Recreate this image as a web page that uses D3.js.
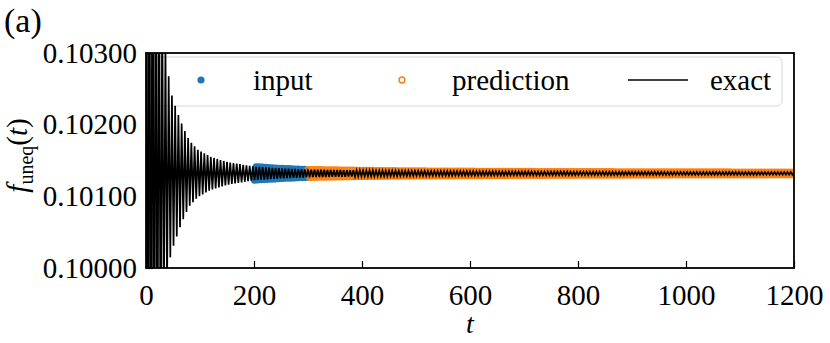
<!DOCTYPE html>
<html>
<head>
<meta charset="utf-8">
<script src="https://cdn.jsdelivr.net/npm/d3@7"></script>
<style>
  body { margin: 0; background: #fff; }
  svg { display: block; }
  svg text { font-family: "Liberation Serif", "DejaVu Serif", "Nimbus Roman", "FreeSerif", "Times", "STIXGeneral", "Tinos", "Noto Serif", serif !important; }
</style>
</head>
<body>
<div id="chart"></div>
<script>
// values
const center = 0.10132;          // level the oscillation settles to
const halfPeriod = 3.0;          // t between a peak and the next trough
const envT   = [0, 20, 31, 44, 50, 57, 63, 69, 75, 81, 96, 120, 150, 200, 250, 300, 400, 500, 650, 800, 1000, 1200];
const envAmp = [0.01, 0.0045, 0.0022, 0.0012, 0.00103, 0.00088, 0.00075, 0.00064, 0.00054, 0.00045, 0.00033,
                0.00023, 0.00016, 0.000095, 0.00007, 0.000054, 0.000042, 0.000034, 0.000028, 0.000024, 0.00002, 0.000018];
const inputRange = [200, 300];
const predRange = [300, 1200];
const xTicks = [0, 200, 400, 600, 800, 1000, 1200];
const yTicks = [0.100, 0.101, 0.102, 0.103];
const legendItems = ["input", "prediction", "exact"];

const W = 830, H = 343;
const margin = { top: 53, right: 36, bottom: 75, left: 146 };
const iw = W - margin.left - margin.right;
const ih = H - margin.top - margin.bottom;

const svg = d3.select("#chart").append("svg")
    .attr("width", W)
    .attr("height", H);

const x = d3.scaleLinear().domain([0, 1200]).range([0, iw]);
const y = d3.scaleLinear().domain([0.100, 0.103]).range([ih, 0]);
const amp = d3.scaleLinear().domain(envT).range(envAmp);

// the exact curve, peak to trough
const exact = [];
let sign = 1;
for (let t = 0; t <= 1200; t += halfPeriod) {
    exact.push([t, center + sign * amp(t)]);
    sign = -sign;
}
const exactAt = t => {
    const i = Math.min(Math.floor(t / halfPeriod), exact.length - 2);
    const a = exact[i], b = exact[i + 1];
    return a[1] + (b[1] - a[1]) * (t - a[0]) / (b[0] - a[0]);
};
const inputPts = d3.range(inputRange[0], inputRange[1]).map(t => [t, exactAt(t)]);
const predPts = d3.range(predRange[0], predRange[1] + 1).map(t => [t, exactAt(t)]);

svg.append("defs").append("clipPath").attr("id", "clip")
    .append("rect").attr("width", iw).attr("height", ih);

const g = svg.append("g").attr("transform", `translate(${margin.left},${margin.top})`);

// legend frame sits under the curves
g.append("rect")
    .attr("x", 6).attr("y", 4)
    .attr("width", 630).attr("height", 49)
    .attr("rx", 5)
    .attr("fill", "none")
    .attr("stroke", "#d6d6d6").attr("stroke-width", 1);

const plot = g.append("g").attr("clip-path", "url(#clip)");

plot.selectAll("circle.input")
    .data(inputPts)
    .enter().append("circle")
    .attr("class", "input")
    .attr("cx", d => x(d[0]))
    .attr("cy", d => y(d[1]))
    .attr("r", 3.6)
    .attr("fill", "#1f77b4");

plot.selectAll("circle.pred")
    .data(predPts)
    .enter().append("circle")
    .attr("class", "pred")
    .attr("cx", d => x(d[0]))
    .attr("cy", d => y(d[1]))
    .attr("r", 2.9)
    .attr("fill", "none")
    .attr("stroke", "#ff7f0e")
    .attr("stroke-width", 1.5);

plot.append("path")
    .datum(exact)
    .attr("d", d3.line().x(d => x(d[0])).y(d => y(d[1])))
    .attr("fill", "none")
    .attr("stroke", "#000")
    .attr("stroke-width", 1.7);

const lg = g.append("g");
lg.append("circle").attr("cx", 55).attr("cy", 27).attr("r", 3.6).attr("fill", "#1f77b4");
lg.append("circle").attr("cx", 256).attr("cy", 27).attr("r", 2.9)
    .attr("fill", "none").attr("stroke", "#ff7f0e").attr("stroke-width", 1.5);
lg.append("line").attr("x1", 482).attr("x2", 542).attr("y1", 27).attr("y2", 27)
    .attr("stroke", "#000").attr("stroke-width", 1.6);
lg.selectAll("text")
    .data(legendItems)
    .enter().append("text")
    .attr("x", (d, i) => [107, 306, 564][i])
    .attr("y", 37)
    .attr("font-size", 29)
    .attr("fill", "#000")
    .text(d => d);

// axes, ticks pointing in
const xAxis = g.append("g").attr("transform", `translate(0,${ih})`)
    .call(d3.axisBottom(x).tickValues(xTicks).tickFormat(d3.format("d")).tickSizeInner(-7).tickSizeOuter(0).tickPadding(16));
const yAxis = g.append("g")
    .call(d3.axisLeft(y).tickValues(yTicks).tickFormat(d3.format(".5f")).tickSizeInner(-7).tickSizeOuter(0).tickPadding(16));
[xAxis, yAxis].forEach(a => {
    a.select(".domain").remove();
    a.selectAll("line").attr("stroke", "#000").attr("stroke-width", 1.2);
    a.selectAll("text").attr("font-size", 29).attr("fill", "#000");
});
xAxis.selectAll("text").attr("dy", "0.71em");
yAxis.selectAll("text").attr("x", -9);

g.append("rect")
    .attr("width", iw).attr("height", ih)
    .attr("fill", "none").attr("stroke", "#000").attr("stroke-width", 1.8);

// labels
g.append("text")
    .attr("x", iw / 2).attr("y", ih + 65)
    .attr("text-anchor", "middle")
    .attr("font-size", 28)
    .attr("font-style", "italic")
    .text("t");

const yl = svg.append("text")
    .attr("transform", `translate(27,${margin.top + ih / 2 - 5}) rotate(-90)`)
    .attr("text-anchor", "middle")
    .attr("font-size", 29);
yl.append("tspan").attr("font-style", "italic").text("f");
yl.append("tspan").attr("font-size", 20).attr("dy", 6).text("uneq");
yl.append("tspan").attr("dy", -6).text("(");
yl.append("tspan").attr("font-style", "italic").text("t");
yl.append("tspan").text(")");

svg.append("text")
    .attr("x", 4).attr("y", 32)
    .attr("font-size", 34)
    .text("(a)");
</script>
</body>
</html>
